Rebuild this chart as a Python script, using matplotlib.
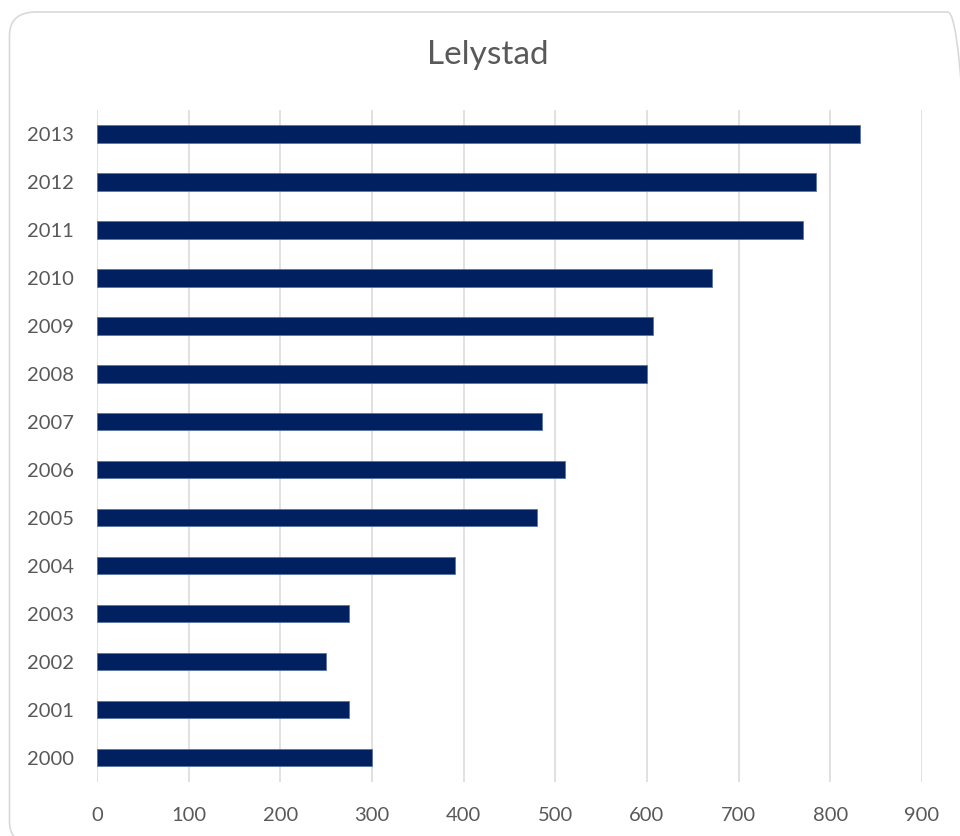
import matplotlib.pyplot as plt
from matplotlib.patches import FancyBboxPatch

plt.rcParams['font.family'] = ['Lato', 'DejaVu Sans']

# Jaartallen en waarden per jaar
years = ['2000', '2001', '2002', '2003', '2004', '2005', '2006',
         '2007', '2008', '2009', '2010', '2011', '2012', '2013']
values = [300, 275, 250, 275, 390, 480, 510,
          485, 600, 606, 671, 770, 784, 832]
xticks = [0, 100, 200, 300, 400, 500, 600, 700, 800, 900]

textColor = '#595959'
barColor = '#002060'
gridColor = '#D9D9D9'

fig = plt.figure(figsize=(9.6, 8.36), dpi=100)

# afgeronde rand rond de hele grafiek
frame = FancyBboxPatch((9.5 / 960, 1 - 845 / 836), 965 / 960, 833 / 836,
                       boxstyle='round,pad=0,rounding_size=0.028',
                       transform=fig.transFigure, facecolor='none',
                       edgecolor='#D9D9D9', linewidth=1.2, zorder=-1)
fig.patches.append(frame)

ax = fig.add_axes([97 / 960, 1 - 781.7 / 836, 825 / 960, 671.7 / 836])
ax.set_facecolor('none')

pos = list(range(len(years)))
ax.barh(pos, values, height=0.36, color=barColor,
        edgecolor='#5A74A8', linewidth=0.6, zorder=3)

ax.set_xlim(0, 900)
ax.set_ylim(-0.5, len(years) - 0.5)
ax.set_xticks(xticks)
ax.set_xticklabels([str(t) for t in xticks])
ax.set_yticks(pos)
ax.set_yticklabels(years)

ax.grid(axis='x', color=gridColor, linewidth=1.1, zorder=0)
ax.set_axisbelow(True)
ax.tick_params(axis='both', length=0, labelsize=14.5, colors=textColor)
ax.tick_params(axis='x', pad=18)
ax.tick_params(axis='y', pad=16.5)
for spine in ax.spines.values():
    spine.set_visible(False)

fig.text(488 / 960, 1 - 55 / 836, 'Lelystad', ha='center', va='center',
         fontsize=24, color=textColor)

fig.savefig('out.png', dpi=100)
